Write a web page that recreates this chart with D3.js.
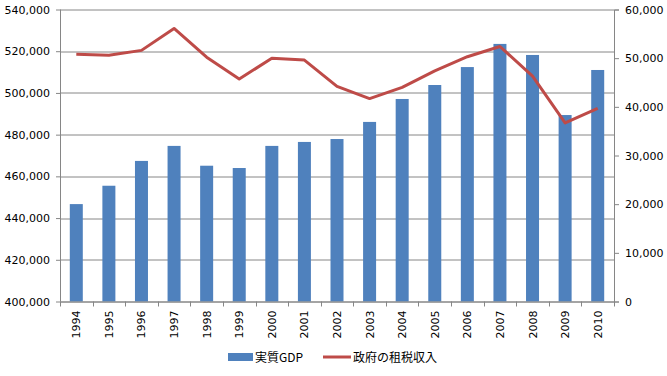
<!DOCTYPE html>
<html>
<head>
<meta charset="utf-8">
<script src="https://cdn.jsdelivr.net/npm/d3@7"></script>
<style>
  body { margin: 0; background: #fff; }
  svg text { font-family: "DejaVu Sans", Verdana, sans-serif; fill: #000; }
  .legend text { font-family: "Noto Sans CJK JP", sans-serif; }
</style>
</head>
<body>
<svg width="667" height="376"></svg>
<script>
// data
const years = ["1994","1995","1996","1997","1998","1999","2000","2001","2002","2003","2004","2005","2006","2007","2008","2009","2010"];
const gdp = [446700, 455500, 467400, 474600, 465100, 464000, 474600, 476500, 477900, 486100, 497100, 503800, 512400, 523500, 518200, 489400, 511000];
const tax = [50800, 50600, 51600, 56100, 50200, 45700, 50000, 49600, 44200, 41700, 44000, 47400, 50300, 52400, 46300, 36700, 39700];
const leftTicks = [400000, 420000, 440000, 460000, 480000, 500000, 520000, 540000];
const rightTicks = [0, 10000, 20000, 30000, 40000, 50000, 60000];

const margin = {top: 9.5, right: 53, bottom: 74.5, left: 60};
const width = 667 - margin.left - margin.right,
      height = 376 - margin.top - margin.bottom;

const svg = d3.select("svg");
const g = svg.append("g")
    .attr("transform", "translate(" + margin.left + "," + margin.top + ")");

const x = d3.scaleBand().domain(years).range([0, width]).paddingInner(0.6).paddingOuter(0.3);
const xc = d3.scaleBand().domain(years).range([0, width]);
const yL = d3.scaleLinear().domain([400000, 540000]).range([height, 0]);
const yR = d3.scaleLinear().domain([0, 60000]).range([height, 0]);
const fmt = d3.format(",");

// gridlines
g.append("g")
  .selectAll("line")
  .data(leftTicks)
  .join("line")
    .attr("x1", 0).attr("x2", width)
    .attr("y1", d => Math.round(yL(d)) + 0.5)
    .attr("y2", d => Math.round(yL(d)) + 0.5)
    .attr("stroke", "#868686");

// bars
g.append("g")
  .selectAll("rect")
  .data(gdp)
  .join("rect")
    .attr("x", (d, i) => xc(years[i]) + xc.bandwidth() / 2 - 6.5)
    .attr("width", 13)
    .attr("y", d => yL(d))
    .attr("height", d => height - yL(d))
    .attr("fill", "#4F81BD");

// tax line
const line = d3.line()
    .x((d, i) => xc(years[i]) + xc.bandwidth() / 2)
    .y(d => yR(d));
g.append("path")
  .datum(tax)
  .attr("d", line)
  .attr("fill", "none")
  .attr("stroke", "#BE4B48")
  .attr("stroke-width", 3)
  .attr("stroke-linejoin", "round");

// left axis
const axL = g.append("g")
  .call(d3.axisLeft(yL).tickValues(leftTicks).tickFormat(fmt).tickSize(4).tickPadding(6));
// right axis
const axR = g.append("g")
  .attr("transform", "translate(" + width + ",0)")
  .call(d3.axisRight(yR).tickValues(rightTicks).tickFormat(fmt).tickSize(5).tickPadding(6));
[axL, axR].forEach(a => {
  a.select(".domain").attr("stroke", "#868686");
  a.selectAll(".tick line").attr("stroke", "#868686");
  a.selectAll("text").attr("font-size", 11).attr("font-family", "DejaVu Sans, Verdana, sans-serif").attr("fill", "#000");
});
axL.select(".domain").attr("d", "M0.5,0V" + height);

// x axis: ticks at category boundaries
const axX = g.append("g").attr("transform", "translate(0," + height + ")");
axX.append("line").attr("x1", 0).attr("x2", width).attr("y1", 0.5).attr("y2", 0.5).attr("stroke", "#868686");
axX.selectAll("line.tk")
  .data(d3.range(years.length + 1))
  .join("line")
    .attr("class", "tk")
    .attr("x1", i => Math.round(i * xc.step()) + 0.5)
    .attr("x2", i => Math.round(i * xc.step()) + 0.5)
    .attr("y1", 0).attr("y2", 5)
    .attr("stroke", "#868686");
axX.selectAll("text")
  .data(years)
  .join("text")
    .attr("transform", d => "translate(" + (xc(d) + xc.bandwidth() / 2 + 4) + ",9) rotate(-90)")
    .attr("text-anchor", "end")
    .attr("font-size", 11)
    .text(d => d);

// legend
const legend = svg.append("g").attr("class", "legend").attr("transform", "translate(0,357)");
legend.append("rect").attr("x", 228).attr("y", -4).attr("width", 25).attr("height", 8).attr("fill", "#4F81BD");
legend.append("text").attr("x", 255).attr("y", 4.5).attr("font-size", 12).text("実質GDP");
legend.append("line").attr("x1", 323).attr("x2", 351).attr("y1", 0).attr("y2", 0)
  .attr("stroke", "#BE4B48").attr("stroke-width", 3);
legend.append("text").attr("x", 353).attr("y", 4.5).attr("font-size", 12).text("政府の租税収入");
</script>
</body>
</html>
